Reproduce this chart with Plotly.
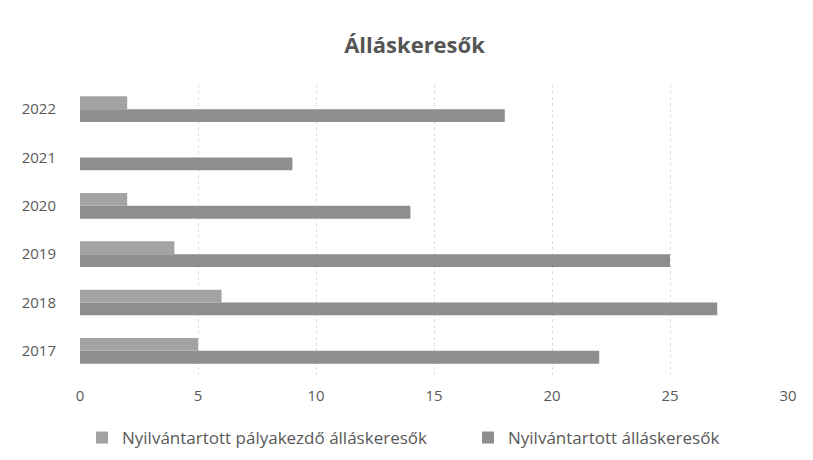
import plotly.graph_objects as go

years = ["2017", "2018", "2019", "2020", "2021", "2022"]
palyakezdo = [5, 6, 4, 2, 0, 2]
allaskeresok = [22, 27, 25, 14, 9, 18]
x_ticks = [0, 5, 10, 15, 20, 25, 30]

fig = go.Figure()
fig.add_trace(go.Bar(
    y=years, x=allaskeresok, orientation="h",
    name="Nyilvántartott álláskeresők",
    marker=dict(color="#8e8e8e", line=dict(width=0)),
    legend="legend2",
))
fig.add_trace(go.Bar(
    y=years, x=palyakezdo, orientation="h",
    name="Nyilvántartott pályakezdő álláskeresők",
    marker=dict(color="#a3a3a3", line=dict(width=0)),
    legend="legend",
))

font_family = "'Open Sans', sans-serif"
leg_common = dict(orientation="h", yref="container", y=(460 - 430) / 460,
                  yanchor="middle", xref="container", xanchor="left",
                  font=dict(size=17, color="#595959"), itemwidth=30,
                  bgcolor="rgba(0,0,0,0)")
fig.update_layout(
    width=813, height=460,
    paper_bgcolor="white", plot_bgcolor="white",
    barmode="group", bargap=0.47, bargroupgap=0,
    margin=dict(l=72, r=33, t=77, b=93),
    title=dict(text="<b>Álláskeresők</b>", x=0.5, xanchor="center",
               y=1 - 37 / 460, yanchor="middle",
               font=dict(family=font_family, size=22, color="#555555")),
    font=dict(family=font_family, size=15, color="#595959"),
    legend=dict(x=74 / 813, **leg_common),
    legend2=dict(x=460 / 813, **leg_common),
    showlegend=True,
)
fig.update_xaxes(
    range=[0, 30], tickvals=x_ticks, showgrid=True,
    gridcolor="#dcdcdc", griddash="dot", gridwidth=1,
    zeroline=False, showline=False, ticks="", ticklabelstandoff=10,
    tickfont=dict(size=15, color="#595959"),
)
fig.update_yaxes(
    type="category", categoryorder="array", categoryarray=years,
    showgrid=False, showline=False, ticks="", ticklabelstandoff=23,
    tickfont=dict(size=15, color="#595959"),
)

fig.write_html("out.html")
